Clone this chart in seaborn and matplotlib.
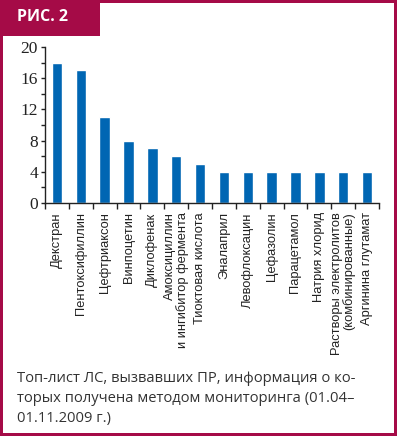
import numpy as np
import pandas as pd
import matplotlib
matplotlib.use('Agg')
import matplotlib.pyplot as plt
import matplotlib.patches as patches
from matplotlib.ticker import MultipleLocator, FixedLocator
import seaborn as sns

# data
drugs = ['Декстран', 'Пентоксифиллин', 'Цефтриаксон', 'Винпоцетин', 'Диклофенак',
         'Амоксициллин\nи ингибитор фермента', 'Тиоктовая кислота', 'Эналаприл',
         'Левофлоксацин', 'Цефазолин', 'Парацетамол', 'Натрия хлорид',
         'Растворы электролитов\n(комбинированные)', 'Аргинина глутамат']
counts = [18, 17, 11, 8, 7, 6, 5, 4, 4, 4, 4, 4, 4, 4]
y_ticks = [0, 4, 8, 12, 16, 20]

crimson = '#A50B47'
blue = '#0066B3'

sns.set_theme(style='white')
plt.rcParams['font.family'] = ['Liberation Sans', 'DejaVu Sans']

W, H = 397, 436
fig = plt.figure(figsize=(W / 100, H / 100), dpi=100)
fig.patch.set_facecolor('white')

# frame and header
bw = 3
fig.add_artist(patches.Rectangle((0, 0), 1, 1, transform=fig.transFigure,
                                 fill=False, edgecolor=crimson, linewidth=bw * 2 * 0.72))
fig.add_artist(patches.Rectangle((0, 1 - 36 / H), 100 / W, 36 / H, transform=fig.transFigure,
                                 facecolor=crimson, edgecolor='none'))
fig.text(17 / W, 1 - 17 / H, 'РИС. 2', color='white', fontsize=11.5, fontweight='bold',
         family=['Open Sans', 'DejaVu Sans'], ha='left', va='center')

ax = fig.add_axes([45 / W, 1 - 203 / H, (379 - 45) / W, (203 - 47) / H])
df = pd.DataFrame({'drug': drugs, 'count': counts})
sns.barplot(data=df, x='drug', y='count', color=blue, saturation=1, width=0.44, ax=ax)

ax.set_xlim(-0.5, len(drugs) - 0.5)
ax.set_ylim(0, 20)
ax.set_xlabel('')
ax.set_ylabel('')
for s in ['top', 'right']:
    ax.spines[s].set_visible(False)
for s in ['left', 'bottom']:
    ax.spines[s].set_color('#222222')
    ax.spines[s].set_linewidth(1.0)

ax.yaxis.set_major_locator(FixedLocator(y_ticks))
ax.yaxis.set_minor_locator(MultipleLocator(2))
ax.tick_params(axis='y', which='both', left=True, direction='out', color='#222222', width=1)
ax.tick_params(axis='y', which='major', length=3, labelsize=12.5, pad=2)
ax.tick_params(axis='y', which='minor', length=3)
for lab in ax.get_yticklabels():
    lab.set_family(['Liberation Serif', 'DejaVu Serif'])
    lab.set_color('#222222')

# category ticks at boundaries, labels at bar centres
ax.set_xticks(np.arange(len(drugs)))
ax.set_xticklabels([])
ax.xaxis.set_minor_locator(FixedLocator(np.arange(len(drugs) + 1) - 0.5))
ax.tick_params(axis='x', which='major', bottom=False, length=0)
ax.tick_params(axis='x', which='minor', bottom=True, length=4, width=1, color='#222222',
               direction='out')
for i, name in enumerate(drugs):
    ax.text(i, -0.06, name, transform=ax.get_xaxis_transform(), rotation=90,
            ha='center', va='top', multialignment='right', fontsize=9.3,
            color='#222222', linespacing=1.0)

caption = ('Топ-лист ЛС, вызвавших ПР, информация о ко-\n'
           'торых получена методом мониторинга (01.04–\n'
           '01.11.2009 г.)')
fig.text(17 / W, 1 - 371 / H, caption, ha='left', va='top', fontsize=10.6,
         family=['Open Sans', 'DejaVu Sans'], color='#333333', linespacing=1.45)

fig.savefig('out.png', dpi=100)
